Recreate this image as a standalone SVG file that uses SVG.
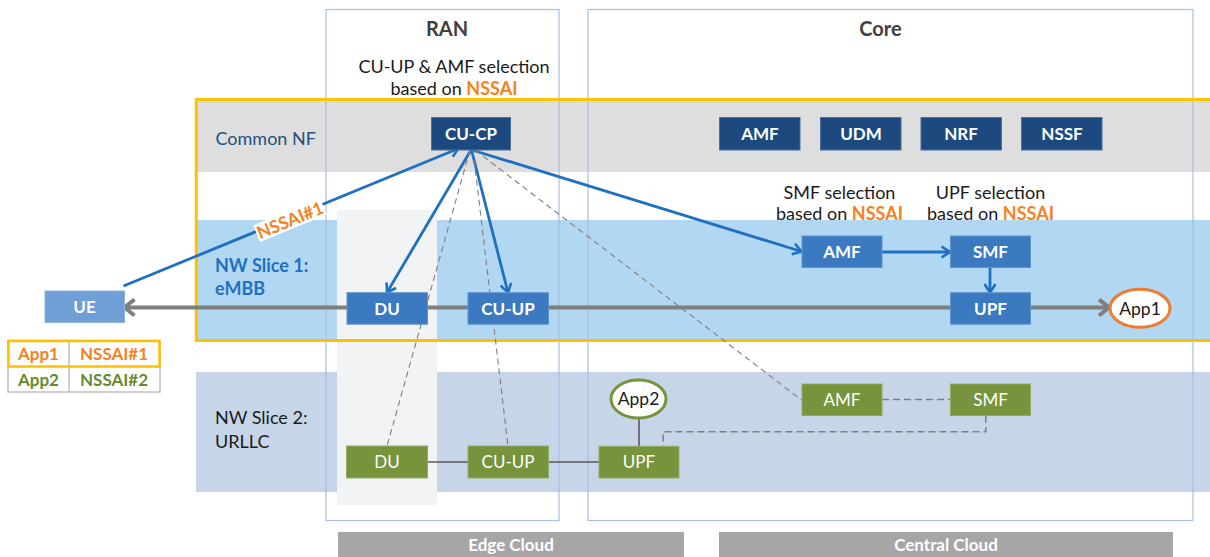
<svg xmlns="http://www.w3.org/2000/svg" width="1210" height="557" viewBox="0 0 1210 557">
<style>
text{font-family:Lato,"Open Sans","Liberation Sans",sans-serif}
.t{font-size:18px;fill:#1a1a1a}
.h{font-size:20px;font-weight:bold;fill:#404040;text-anchor:middle}
.c{text-anchor:middle}
.o{fill:#f5821f;font-weight:bold}
.bl{font-size:17px;font-weight:bold;fill:#fff;text-anchor:middle}
.gl{font-size:17px;fill:#fff;text-anchor:middle}
.navy{fill:#1c4a7e;stroke:#4a6f9c;stroke-width:1}
.blue{fill:#3b7ac0;stroke:#5f93cc;stroke-width:1}
.green{fill:#77933c;stroke:#93ab62;stroke-width:1}
.frame{fill:none;stroke:#a7bfe2;stroke-width:1.2}
.ba{fill:none;stroke:#1f70c1;stroke-width:2.8;marker-end:url(#ab)}
.dl{fill:none;stroke:#7f7f7f;stroke-width:1.1;stroke-dasharray:6,4}
.dl2{fill:none;stroke:#7f7f7f;stroke-width:1.5;stroke-dasharray:7,4}
.sl{fill:none;stroke:#595959;stroke-width:1.6}
</style>
<defs>
<marker id="ab" markerUnits="userSpaceOnUse" markerWidth="14" markerHeight="14" viewBox="0 0 14 14" refX="11.5" refY="7" orient="auto">
<path d="M3,1.5 L11.5,7 L3,12.5" fill="none" stroke="#1f70c1" stroke-width="2.6"/>
</marker>
<marker id="ag" markerUnits="userSpaceOnUse" markerWidth="18" markerHeight="20" viewBox="0 0 18 20" refX="14" refY="10" orient="auto-start-reverse">
<path d="M4,2 L14,10 L4,18" fill="none" stroke="#7f7f7f" stroke-width="4"/>
</marker>
</defs>
<rect width="1210" height="557" fill="#fff"/>
<g id="background">
<rect x="196" y="100" width="1014" height="72" fill="#dedede"/>
<rect x="196" y="220" width="1014" height="120" fill="#b1d7f2"/>
<rect x="196" y="372" width="1014" height="120" fill="#c6d6e8"/>
<rect x="337" y="210" width="100" height="295" fill="#f2f3f5"/>
<rect x="326" y="9.5" width="233" height="511" class="frame"/>
<rect x="588" y="9.5" width="605" height="511" class="frame"/>
<rect x="196.3" y="99.5" width="1020" height="241" fill="none" stroke="#ffc000" stroke-width="3"/>
<rect x="338" y="532" width="346" height="25" fill="#a6a6a6"/>
<rect x="719" y="532" width="454" height="25" fill="#a6a6a6"/>
</g>
<g id="labels">
<text class="h" x="447" y="36">RAN</text>
<text class="h" x="880.5" y="36">Core</text>
<text class="t c" x="454" y="73">CU-UP &amp; AMF selection</text>
<text class="t c" x="454" y="94.5">based on <tspan class="o">NSSAI</tspan></text>
<text class="t c" x="839.5" y="199">SMF selection</text>
<text class="t c" x="839.5" y="219.5">based on <tspan class="o">NSSAI</tspan></text>
<text class="t c" x="990.5" y="199">UPF selection</text>
<text class="t c" x="990.5" y="219.5">based on <tspan class="o">NSSAI</tspan></text>
<text x="215.5" y="144.5" font-size="18" fill="#25507f">Common NF</text>
<text x="215" y="272" font-size="18" font-weight="bold" fill="#1f70c1">NW Slice 1:</text>
<text x="215" y="295" font-size="18" font-weight="bold" fill="#1f70c1">eMBB</text>
<text x="215" y="424" class="t">NW Slice 2:</text>
<text x="215" y="447.5" class="t">URLLC</text>
<text x="511" y="551" font-size="17" font-weight="bold" fill="#fff" text-anchor="middle">Edge Cloud</text>
<text x="946" y="551" font-size="17" font-weight="bold" fill="#fff" text-anchor="middle">Central Cloud</text>
</g>
<g id="connectors">
<line x1="124.5" y1="307.5" x2="1109" y2="307.5" stroke="#7f7f7f" stroke-width="4" marker-start="url(#ag)" marker-end="url(#ag)"/>
<line class="ba" x1="123.5" y1="286" x2="458.5" y2="148.5"/>
<line class="ba" x1="471" y1="150" x2="387" y2="292.5"/>
<line class="ba" x1="471.5" y1="150" x2="508" y2="292.5"/>
<line class="ba" x1="472" y1="150" x2="801.5" y2="251.5"/>
<line class="ba" x1="882" y1="252" x2="950" y2="252"/>
<line class="ba" x1="990" y1="268" x2="990" y2="292.5"/>
<line class="dl" x1="470" y1="150" x2="387" y2="446"/>
<line class="dl" x1="473" y1="150" x2="508" y2="446"/>
<line class="dl" x1="475" y1="150" x2="801.5" y2="400"/>
<line class="dl2" x1="882" y1="399.5" x2="950" y2="399.5"/>
<path class="dl2" d="M985.8,416 V431.7 H663.2 V446.3"/>
<line class="sl" x1="427.5" y1="462" x2="468" y2="462"/>
<line class="sl" x1="548" y1="462" x2="599" y2="462"/>
<line class="sl" x1="639" y1="418.5" x2="639" y2="446.3"/>
<g id="nssai-label" transform="translate(290,220) rotate(-22.4)">
<rect x="-36" y="-9" width="72" height="18" fill="#fff"/>
<text x="0" y="6.5" font-size="17.5" class="o" text-anchor="middle">NSSAI#1</text>
</g>
</g>
<g id="cu-cp"><rect class="navy" x="431.5" y="117.5" width="79" height="32.5"/><text class="bl" x="471" y="140">CU-CP</text></g>
<g id="amf-common"><rect class="navy" x="719.5" y="117.5" width="80.5" height="32.5"/><text class="bl" x="760" y="140">AMF</text></g>
<g id="udm"><rect class="navy" x="820.5" y="117.5" width="80.5" height="32.5"/><text class="bl" x="861" y="140">UDM</text></g>
<g id="nrf"><rect class="navy" x="921" y="117.5" width="80.5" height="32.5"/><text class="bl" x="961" y="140">NRF</text></g>
<g id="nssf"><rect class="navy" x="1021.5" y="117.5" width="80.5" height="32.5"/><text class="bl" x="1062" y="140">NSSF</text></g>
<g id="amf-1"><rect class="blue" x="802" y="236" width="80" height="31.5"/><text class="bl" x="842" y="258">AMF</text></g>
<g id="smf-1"><rect class="blue" x="950.5" y="236" width="80" height="31.5"/><text class="bl" x="990.5" y="258">SMF</text></g>
<g id="ue"><rect x="45" y="291" width="79.5" height="31.5" fill="#6f9fd6" stroke="#8cb2df" stroke-width="1"/><text class="bl" x="84.5" y="313">UE</text></g>
<g id="du-1"><rect class="blue" x="347" y="292.7" width="80.5" height="31.5"/><text class="bl" x="387" y="314.5">DU</text></g>
<g id="cu-up-1"><rect class="blue" x="468" y="292.7" width="80.5" height="31.5"/><text class="bl" x="508" y="314.5">CU-UP</text></g>
<g id="upf-1"><rect class="blue" x="950.5" y="292.7" width="80" height="31.5"/><text class="bl" x="990.5" y="314.5">UPF</text></g>
<g id="app1"><ellipse cx="1140" cy="308.3" rx="30" ry="19" fill="#fff" stroke="#ed7d31" stroke-width="3"/><text class="c" font-size="17.5" fill="#1a1a1a" x="1140" y="314.5">App1</text></g>
<g id="app2"><ellipse cx="638.5" cy="399" rx="27.5" ry="19" fill="#fff" stroke="#77933c" stroke-width="3"/><text class="c" font-size="17.5" fill="#1a1a1a" x="638.5" y="405">App2</text></g>
<g id="amf-2"><rect class="green" x="802" y="384" width="80" height="31.5"/><text class="gl" x="842" y="406">AMF</text></g>
<g id="smf-2"><rect class="green" x="950.5" y="384" width="80" height="31.5"/><text class="gl" x="990.5" y="406">SMF</text></g>
<g id="du-2"><rect class="green" x="346.5" y="446" width="81" height="32"/><text class="gl" x="387" y="468">DU</text></g>
<g id="cu-up-2"><rect class="green" x="468" y="446" width="80.5" height="32"/><text class="gl" x="508" y="468">CU-UP</text></g>
<g id="upf-2"><rect class="green" x="599" y="446.3" width="80" height="31.7"/><text class="gl" x="639" y="468">UPF</text></g>
<g id="legend">
<rect x="8" y="340.5" width="152" height="51.5" fill="#fff" stroke="#bfbfbf" stroke-width="1.5"/>
<line x1="69" y1="340.5" x2="69" y2="392" stroke="#bfbfbf" stroke-width="1.5"/>
<rect x="8.5" y="341" width="151" height="25.5" fill="none" stroke="#ffc000" stroke-width="2.5"/>
<text x="38.5" y="360" font-size="17" class="o" text-anchor="middle">App1</text>
<text x="114" y="360" font-size="17" class="o" text-anchor="middle">NSSAI#1</text>
<text x="38.5" y="386" font-size="17" font-weight="bold" fill="#678a2d" text-anchor="middle">App2</text>
<text x="114" y="386" font-size="17" font-weight="bold" fill="#678a2d" text-anchor="middle">NSSAI#2</text>
</g>
</svg>
